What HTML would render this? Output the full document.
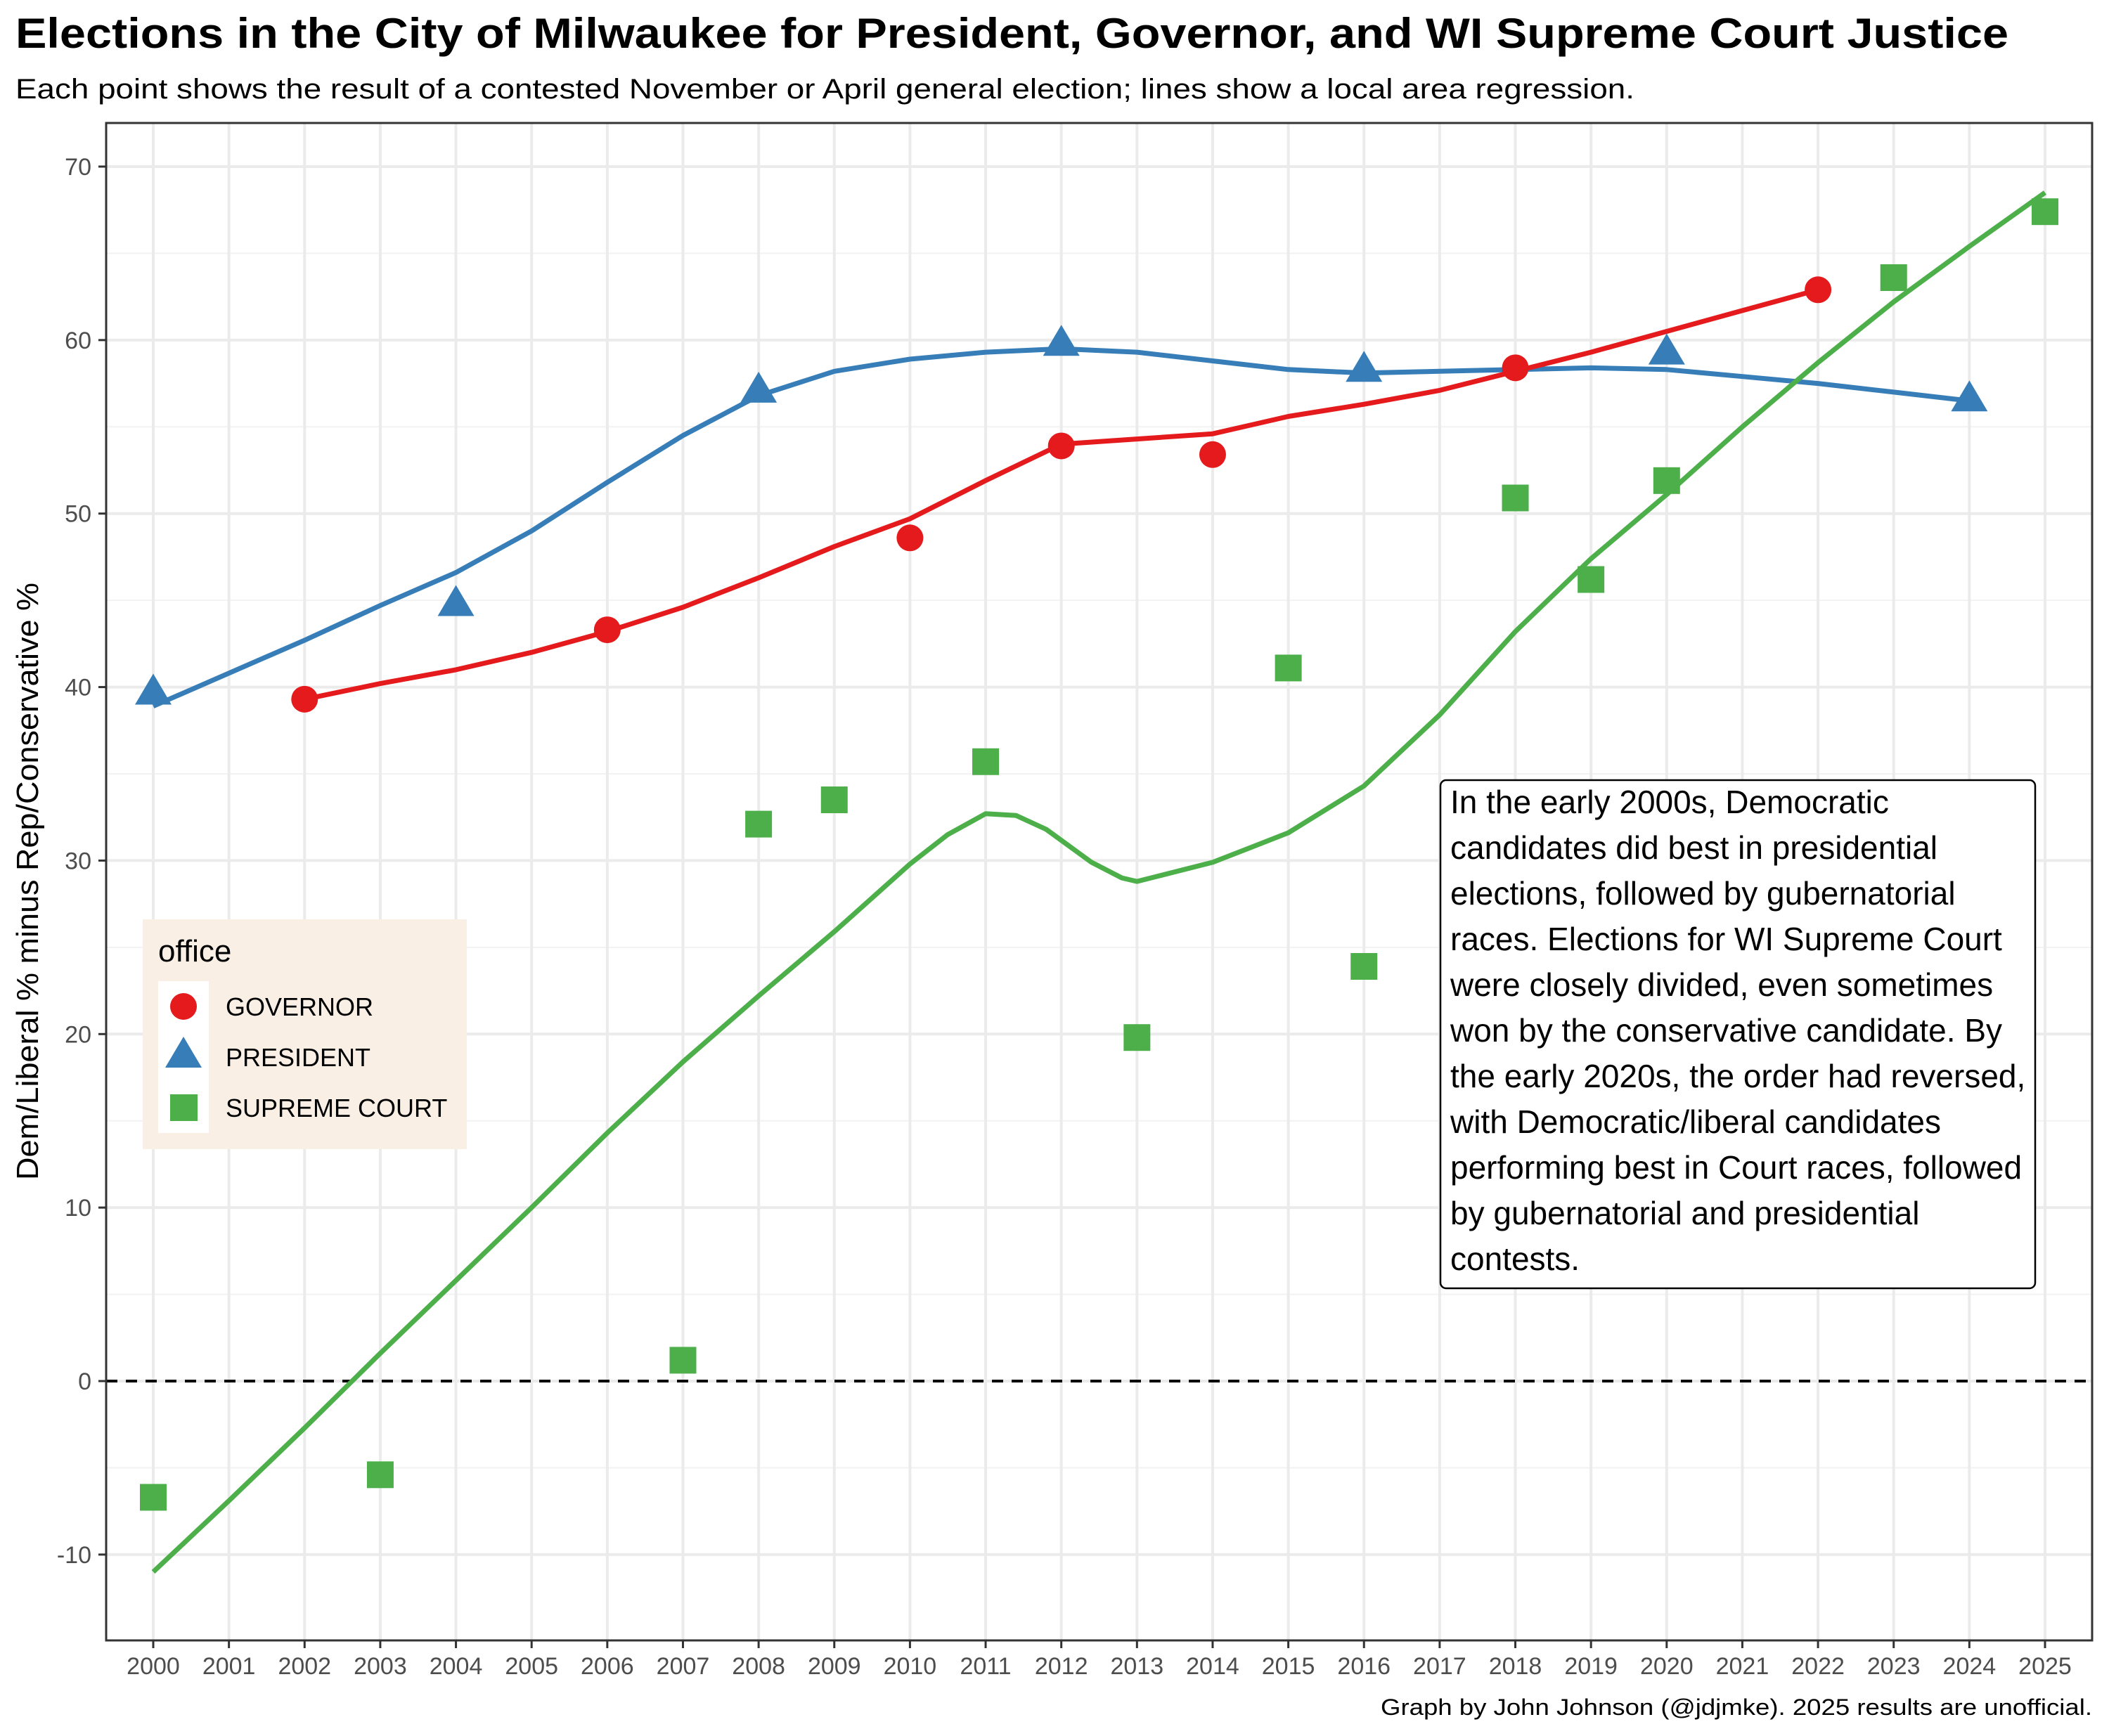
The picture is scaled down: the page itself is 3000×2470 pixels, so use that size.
<!DOCTYPE html>
<html><head><meta charset="utf-8"><style>
body{margin:0;background:#fff}
svg{display:block;font-family:"Liberation Sans",sans-serif}
</style></head><body>
<svg id="chart" width="3000" height="2470" viewBox="0 0 3000 2470" xmlns="http://www.w3.org/2000/svg">
<text x="22" y="68" font-size="60" font-weight="bold" fill="#000" textLength="2835" lengthAdjust="spacingAndGlyphs">Elections in the City of Milwaukee for President, Governor, and WI Supreme Court Justice</text>
<text x="22" y="140" font-size="40" fill="#000" textLength="2303" lengthAdjust="spacingAndGlyphs">Each point shows the result of a contested November or April general election; lines show a local area regression.</text>
<rect x="151" y="175" width="2825" height="2159" fill="#fff"/>
<g id="grid"></g>
<g id="lines"></g>
<g id="points"></g>
<rect x="151" y="175" width="2825" height="2159" fill="none" stroke="#333" stroke-width="3"/>
<g id="axes"></g>
<text transform="translate(54,1254) rotate(-90)" text-anchor="middle" font-size="44" fill="#000" textLength="850" lengthAdjust="spacingAndGlyphs">Dem/Liberal % minus Rep/Conservative %</text>
<g>
<rect x="203" y="1308" width="461" height="327" fill="#faefe5"/>
<text x="225" y="1368" font-size="44" fill="#000">office</text>
<rect x="225" y="1396" width="72" height="216" fill="#fff"/>
<circle cx="261" cy="1432" r="19" fill="#e41a1c"/>
<polygon points="261,1475 287,1519 235,1519" fill="#377eb8"/>
<rect x="242" y="1557" width="39" height="38" fill="#4daf4a"/>
<text x="321" y="1445" font-size="36" fill="#000">GOVERNOR</text>
<text x="321" y="1517" font-size="36" fill="#000">PRESIDENT</text>
<text x="321" y="1589" font-size="36" fill="#000">SUPREME COURT</text>
</g>
<g>
<rect x="2049" y="1110" width="846" height="723" rx="8" fill="#fff" stroke="#000" stroke-width="2.5"/>
<text font-size="46" fill="#000">
<tspan x="2063" y="1157">In the early 2000s, Democratic</tspan>
<tspan x="2063" y="1222">candidates did best in presidential</tspan>
<tspan x="2063" y="1287">elections, followed by gubernatorial</tspan>
<tspan x="2063" y="1352">races. Elections for WI Supreme Court</tspan>
<tspan x="2063" y="1417">were closely divided, even sometimes</tspan>
<tspan x="2063" y="1482">won by the conservative candidate. By</tspan>
<tspan x="2063" y="1547">the early 2020s, the order had reversed,</tspan>
<tspan x="2063" y="1612">with Democratic/liberal candidates</tspan>
<tspan x="2063" y="1677">performing best in Court races, followed</tspan>
<tspan x="2063" y="1742">by gubernatorial and presidential</tspan>
<tspan x="2063" y="1807">contests.</tspan>
</text>
</g>
<text x="2976" y="2440" text-anchor="end" font-size="32" fill="#000" textLength="1012" lengthAdjust="spacingAndGlyphs">Graph by John Johnson (@jdjmke). 2025 results are unofficial.</text>
</svg>
<script>
const govYears=[2002,2006,2010,2012,2014,2018,2022];
const govValues=[39.3,43.3,48.6,53.9,53.4,58.4,62.9];
const presYears=[2000,2004,2008,2012,2016,2020,2024];
const presValues=[39.6,44.7,57.0,59.7,58.2,59.2,56.5];
const scYears=[2000,2003,2007,2008,2009,2011,2013,2015,2016,2018,2019,2020,2023,2025];
const scValues=[-6.7,-5.4,1.2,32.1,33.5,35.7,19.8,41.1,23.9,50.9,46.2,51.9,63.6,67.4];
const presTrendX=[2000,2001,2002,2003,2004,2005,2006,2007,2008,2009,2010,2011,2012,2013,2014,2015,2016,2017,2018,2019,2020,2021,2022,2023,2024];
const presTrendY=[38.9,40.8,42.7,44.7,46.6,49.0,51.8,54.5,56.8,58.2,58.9,59.3,59.5,59.3,58.8,58.3,58.1,58.2,58.3,58.4,58.3,57.9,57.5,57.0,56.5];
const govTrendX=[2002,2003,2004,2005,2006,2007,2008,2009,2010,2011,2012,2013,2014,2015,2016,2017,2018,2019,2020,2021,2022];
const govTrendY=[39.3,40.2,41.0,42.0,43.2,44.6,46.3,48.1,49.7,51.9,54.0,54.3,54.6,55.6,56.3,57.1,58.2,59.3,60.5,61.7,62.9];
const scTrendX=[2000,2001,2002,2003,2004,2005,2006,2007,2008,2009,2010,2010.5,2011,2011.4,2011.8,2012.4,2012.8,2013,2014,2015,2016,2017,2018,2019,2020,2021,2022,2023,2024,2025];
const scTrendY=[-11,-6.9,-2.7,1.6,5.8,10.0,14.3,18.4,22.2,25.9,29.8,31.5,32.7,32.6,31.8,29.9,29.0,28.8,29.9,31.6,34.3,38.4,43.2,47.4,51.1,55.0,58.7,62.2,65.4,68.5];
const xTicks=[2000,2001,2002,2003,2004,2005,2006,2007,2008,2009,2010,2011,2012,2013,2014,2015,2016,2017,2018,2019,2020,2021,2022,2023,2024,2025];
const yTicks=[-10,0,10,20,30,40,50,60,70];
const yMinor=[-15,-5,5,15,25,35,45,55,65];

const NS='http://www.w3.org/2000/svg';
const X=v=>218+(v-2000)*(2909-218)/25;
const Y=v=>1965-(v)*(1965-237)/70;
function mk(tag,attrs,parent){const e=document.createElementNS(NS,tag);for(const k in attrs)e.setAttribute(k,attrs[k]);parent.appendChild(e);return e;}
const grid=document.getElementById('grid'),axes=document.getElementById('axes'),lines=document.getElementById('lines'),pts=document.getElementById('points');
yMinor.forEach(v=>{if(Y(v)<176||Y(v)>2333)return;const l=mk('line',{x1:151,x2:2976,y1:Y(v),y2:Y(v),stroke:'#f2f2f2','stroke-width':2},grid);

});
yTicks.forEach(v=>{const l=mk('line',{x1:151,x2:2976,y1:Y(v),y2:Y(v),stroke:'#ebebeb','stroke-width':4},grid);


const t=mk('line',{x1:140,x2:151,y1:Y(v),y2:Y(v),stroke:'#333','stroke-width':3},axes);


const tx=mk('text',{x:130,y:Y(v)+12,'text-anchor':'end','font-size':34,fill:'#4d4d4d'},axes);tx.textContent=v;

});
xTicks.forEach(v=>{const l=mk('line',{x1:X(v),x2:X(v),y1:175,y2:2334,stroke:'#ebebeb','stroke-width':4},grid);


const t=mk('line',{x1:X(v),x2:X(v),y1:2334,y2:2345,stroke:'#333','stroke-width':3},axes);


const tx=mk('text',{x:X(v),y:2382,'text-anchor':'middle','font-size':34,fill:'#4d4d4d'},axes);tx.textContent=v;

});
const zl=mk('line',{x1:151,x2:2976,y1:Y(0),y2:Y(0),stroke:'#000','stroke-width':4,'stroke-dasharray':'16,12'},grid);


function trend(xs,ys,col,name){const d=xs.map((x,i)=>(i?'L':'M')+X(x).toFixed(1)+','+Y(ys[i]).toFixed(1)).join(' ');
const p=mk('path',{d:d,fill:'none',stroke:col,'stroke-width':7,'stroke-linejoin':'round'},lines);

}
trend(presTrendX,presTrendY,'#377eb8','president-trend-line');
trend(govTrendX,govTrendY,'#e41a1c','governor-trend-line');
trend(scTrendX,scTrendY,'#4daf4a','supreme-court-trend-line');
govYears.forEach((yr,i)=>{const c=mk('circle',{cx:X(yr),cy:Y(govValues[i]),r:19,fill:'#e41a1c'},pts);

});
presYears.forEach((yr,i)=>{const x=X(yr),y=Y(presValues[i]);const p=mk('polygon',{points:`${x},${y-29} ${x+26},${y+15} ${x-26},${y+15}`,fill:'#377eb8'},pts);

});
scYears.forEach((yr,i)=>{const r=mk('rect',{x:X(yr)-19,y:Y(scValues[i])-19,width:38,height:38,fill:'#4daf4a'},pts);

});
</script>
</body></html>
